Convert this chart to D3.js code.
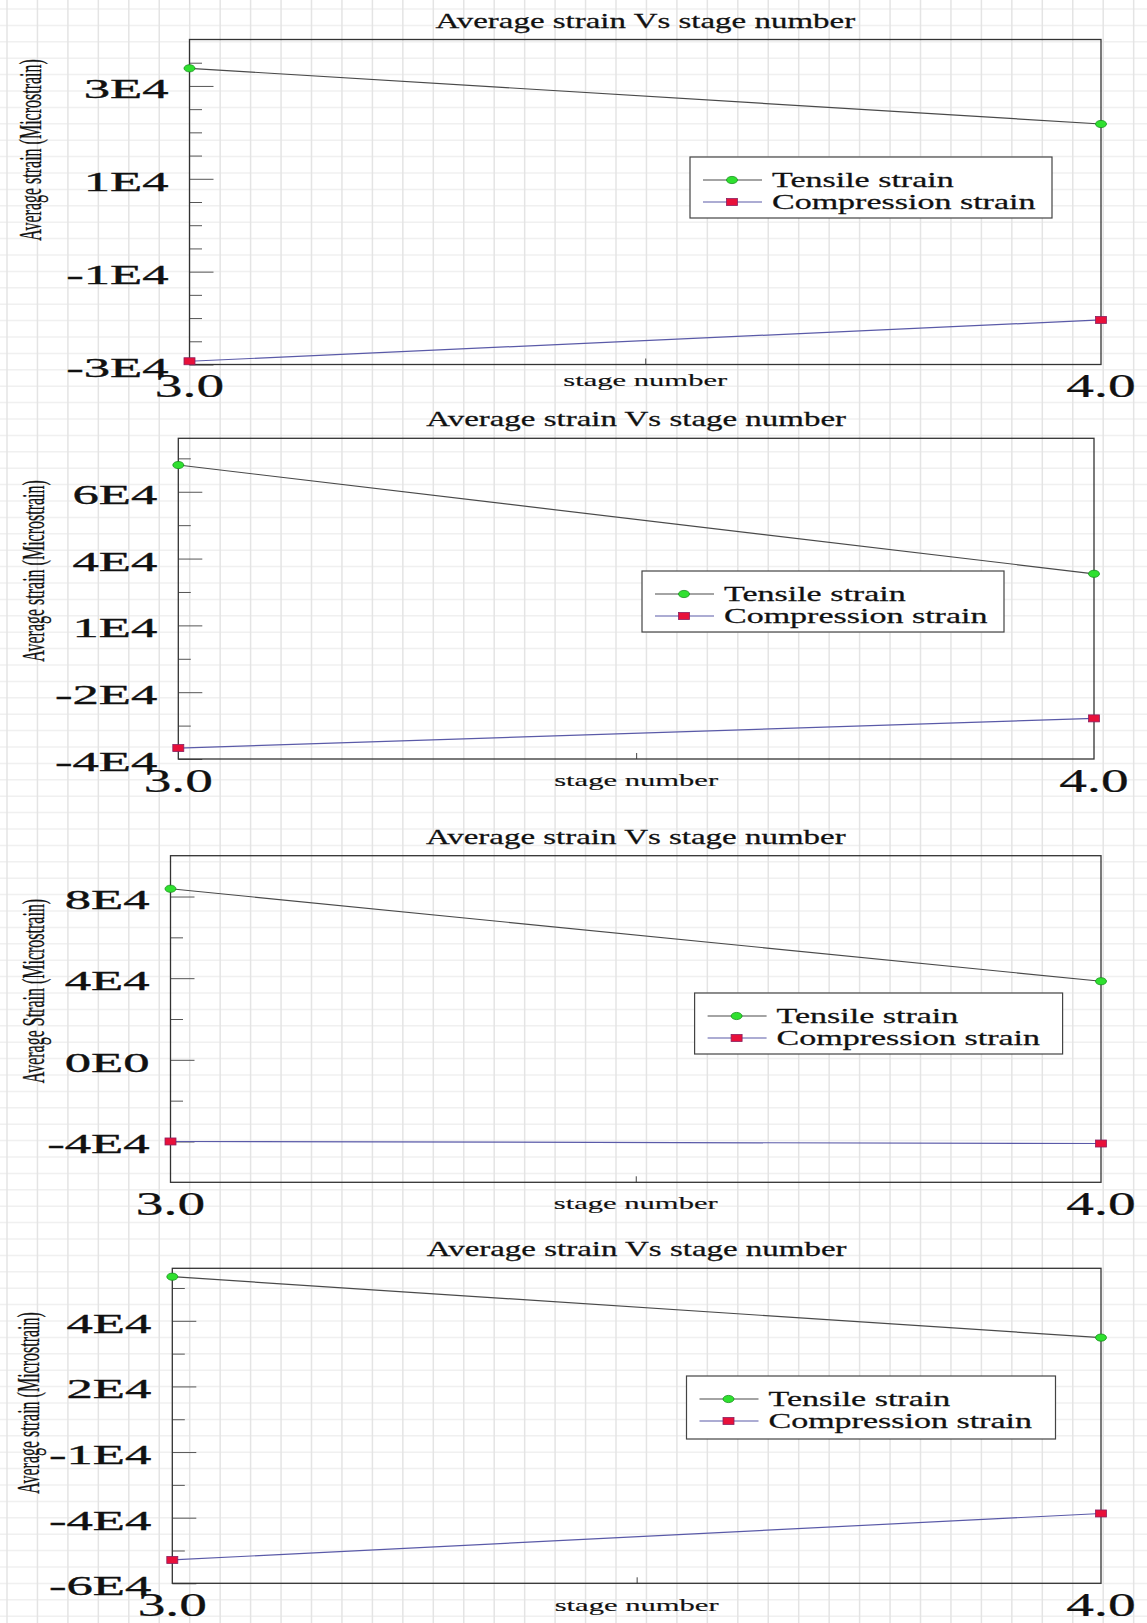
<!DOCTYPE html>
<html>
<head>
<meta charset="utf-8">
<script src="https://cdn.jsdelivr.net/npm/d3@7"></script>
<style>
  body { margin: 0; background: #fff; }
  text { font-family: "Liberation Serif", "Times New Roman", serif; fill: #111; stroke: #111; stroke-width: 0.25px; }
</style>
</head>
<body>
<div id="chart"></div>
<script>
// ---- data ----
const stages = [3.0, 4.0];
const stageLabels = ["3.0", "4.0"];
const seriesNames = ["Tensile strain", "Compression strain"];
const chartTitle = "Average strain Vs stage number";
const xTitle = "stage number";
const yTitles = ["Average strain (Microstrain)", "Average strain (Microstrain)",
                 "Average Strain (Microstrain)", "Average strain (Microstrain)"];

const tensile1 = [33800, 21800];
const compression1 = [-29300, -20400];
const tensile2 = [70000, 29300];
const compression2 = [-35900, -24800];
const tensile3 = [83800, 38500];
const compression3 = [-40000, -41000];
const tensile4 = [56800, 33600];
const compression4 = [-51100, -33400];

const yDomain1 = [-30000, 40000];
const yTicks1 = [-30000, -10000, 10000, 30000];
const yTickLabels1 = ["-3E4", "-1E4", "1E4", "3E4"];
const yDomain2 = [-40000, 80000];
const yTicks2 = [-40000, -15000, 10000, 35000, 60000];
const yTickLabels2 = ["-4E4", "-2E4", "1E4", "4E4", "6E4"];
const yDomain3 = [-60000, 100000];
const yTicks3 = [-40000, 0, 40000, 80000];
const yTickLabels3 = ["-4E4", "0E0", "4E4", "8E4"];
const yDomain4 = [-60000, 60000];
const yTicks4 = [-60000, -35000, -10000, 15000, 40000];
const yTickLabels4 = ["-6E4", "-4E4", "-1E4", "2E4", "4E4"];

// ---- layout ----
const W = 1147, H = 1623;
const panels = [
  {tensile: tensile1, compression: compression1, domain: yDomain1, ticks: yTicks1, labels: yTickLabels1, minorStep: 5000, yTitle: yTitles[0],
   box: {left: 189.5, right: 1101, top: 39.5, bottom: 364.5}, legend: {x: 690, y: 157, w: 362, h: 61}, yTitleX: 30, yTitleY: 150, xTitleDy: 21},
  {tensile: tensile2, compression: compression2, domain: yDomain2, ticks: yTicks2, labels: yTickLabels2, minorStep: 12500, yTitle: yTitles[1],
   box: {left: 178.3, right: 1094, top: 438.3, bottom: 759}, legend: {x: 642, y: 571, w: 362, h: 61}, yTitleX: 33, yTitleY: 571, xTitleDy: 27},
  {tensile: tensile3, compression: compression3, domain: yDomain3, ticks: yTicks3, labels: yTickLabels3, minorStep: 20000, yTitle: yTitles[2],
   box: {left: 170.5, right: 1101, top: 855.7, bottom: 1182.3}, legend: {x: 694.6, y: 993, w: 368, h: 61}, yTitleX: 33, yTitleY: 991, xTitleDy: 27},
  {tensile: tensile4, compression: compression4, domain: yDomain4, ticks: yTicks4, labels: yTickLabels4, minorStep: 12500, yTitle: yTitles[3],
   box: {left: 172.3, right: 1101, top: 1268.3, bottom: 1583.3}, legend: {x: 686.5, y: 1376, w: 369, h: 63}, yTitleX: 28, yTitleY: 1403, xTitleDy: 28}
];

const svg = d3.select("#chart").append("svg")
  .attr("width", W)
  .attr("height", H);

// graph paper behind everything
let paper = svg.append("g").attr("class", "paper");
paper.selectAll(".gh")
  .data(d3.range(9, H, 16.4))
  .enter().append("line")
  .attr("x1", 0).attr("x2", W)
  .attr("y1", d => d).attr("y2", d => d)
  .style("stroke", "#f0f0f0")
  .style("stroke-width", 1.5);
paper.selectAll(".gv")
  .data(d3.range(7, W, 30.45))
  .enter().append("line")
  .attr("y1", 0).attr("y2", H)
  .attr("x1", d => d).attr("x2", d => d)
  .style("stroke", "#e4e4e4")
  .style("stroke-width", 1.5);

//text that is wider than the font, like the stretched screenshot
function stretch(sel, x, y, sx) {
  return sel.attr("transform", "translate(" + x + "," + y + ") scale(" + sx + ",1)");
}

panels.forEach(function (p) {
  let g = svg.append("g");
  let b = p.box;

  let x = d3.scaleLinear().domain(stages).range([b.left, b.right]);
  let y = d3.scaleLinear().domain(p.domain).range([b.bottom, b.top]);

  // title
  stretch(g.append("text"), (b.left + b.right) / 2, b.top - 12, 1.57)
    .attr("text-anchor", "middle")
    .style("font-size", "21px")
    .text(chartTitle);

  // minor ticks
  let minors = d3.range(p.domain[0] + p.minorStep, p.domain[1] - 1, p.minorStep)
    .filter(v => !p.ticks.some(t => Math.abs(t - v) < 1));
  let minorAxis = g.append("g")
    .attr("transform", "translate(" + b.left + ",0)")
    .call(d3.axisLeft(y).tickValues(minors).tickSize(-12.5).tickFormat(""));
  minorAxis.select(".domain").remove();
  minorAxis.selectAll("line").style("stroke", "#555");

  // major ticks + labels
  let yAxis = g.append("g")
    .attr("transform", "translate(" + b.left + ",0)")
    .call(d3.axisLeft(y).tickValues(p.ticks).tickSize(-24).tickFormat((d, i) => p.labels[i]));
  yAxis.select(".domain").remove();
  yAxis.selectAll("line").style("stroke", "#555");
  yAxis.selectAll("text")
    .attr("x", 0).attr("dy", null)
    .attr("transform", "translate(-21,11.5) scale(1.95,1)")
    .style("font-size", "27px")
    .style("font-family", "'Liberation Serif', 'Times New Roman', serif")
    .style("fill", "#111")
    .style("stroke", "#111")
    .style("stroke-width", "0.35px");

  // mid tick on the x axis
  let xAxis = g.append("g")
    .attr("transform", "translate(0," + b.bottom + ")")
    .call(d3.axisBottom(x).tickValues([3.5]).tickSize(-6).tickFormat(""));
  xAxis.select(".domain").remove();
  xAxis.selectAll("line").style("stroke", "#444");

  // frame
  g.append("rect")
    .attr("x", b.left).attr("y", b.top)
    .attr("width", b.right - b.left).attr("height", b.bottom - b.top)
    .style("fill", "none")
    .style("stroke", "#333")
    .style("stroke-width", 1.3);

  // x labels
  stages.forEach(function (s, i) {
    stretch(g.append("text"), x(s), b.bottom + 32.5, 1.63)
      .attr("text-anchor", "middle")
      .style("font-size", "34px")
      .text(stageLabels[i]);
  });
  stretch(g.append("text"), (b.left + b.right) / 2, b.bottom + p.xTitleDy, 1.8)
    .attr("text-anchor", "middle")
    .style("font-size", "17px")
    .style("stroke-width", "0.15px")
    .text(xTitle);

  // y title
  g.append("text")
    .attr("transform", "translate(" + p.yTitleX + "," + p.yTitleY + ") scale(2,1) rotate(-90)")
    .attr("text-anchor", "middle")
    .attr("dy", "0.35em")
    .style("font-size", "16px")
    .style("stroke-width", "0.15px")
    .text(p.yTitle);

  // lines
  let line = d3.line()
    .x((d, i) => x(stages[i]))
    .y(d => y(d));
  g.append("path").attr("d", line(p.tensile))
    .style("fill", "none").style("stroke", "#4a4a4a").style("stroke-width", 1.2);
  g.append("path").attr("d", line(p.compression))
    .style("fill", "none").style("stroke", "#5a5aa8").style("stroke-width", 1.2);

  // markers
  g.selectAll(".tMark").data(p.tensile).enter().append("ellipse")
    .attr("cx", (d, i) => x(stages[i])).attr("cy", d => y(d))
    .attr("rx", 5.5).attr("ry", 3.6)
    .style("fill", "#2fe02f").style("stroke", "#14901a").style("stroke-width", 0.8);
  g.selectAll(".cMark").data(p.compression).enter().append("rect")
    .attr("x", (d, i) => x(stages[i]) - 5.5).attr("y", d => y(d) - 3.5)
    .attr("width", 11).attr("height", 7)
    .style("fill", "#e8103a").style("stroke", "#8a2060").style("stroke-width", 0.8);

  // legend
  let L = p.legend;
  let lg = g.append("g").attr("transform", "translate(" + L.x + "," + L.y + ")");
  lg.append("rect")
    .attr("width", L.w).attr("height", L.h)
    .style("fill", "#fff").style("stroke", "#444").style("stroke-width", 1.2);
  seriesNames.forEach(function (name, i) {
    let cy = 23 + i * 22;
    lg.append("line")
      .attr("x1", 13).attr("x2", 72).attr("y1", cy).attr("y2", cy)
      .style("stroke", i === 0 ? "#4a4a4a" : "#5a5aa8").style("stroke-width", 1.2);
    if (i === 0) {
      lg.append("ellipse").attr("cx", 42).attr("cy", cy).attr("rx", 5.5).attr("ry", 3.6)
        .style("fill", "#2fe02f").style("stroke", "#14901a").style("stroke-width", 0.8);
    } else {
      lg.append("rect").attr("x", 36.5).attr("y", cy - 3.5).attr("width", 11).attr("height", 7)
        .style("fill", "#e8103a").style("stroke", "#8a2060").style("stroke-width", 0.8);
    }
    stretch(lg.append("text"), 82, cy + 7, 1.62)
      .style("font-size", "21px")
      .text(name);
  });
});
</script>
</body>
</html>
